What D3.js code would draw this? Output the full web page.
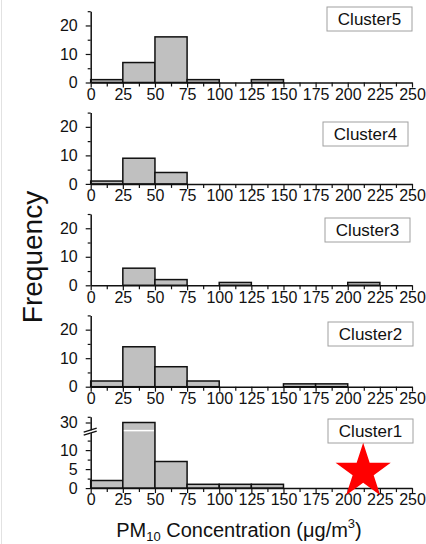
<!DOCTYPE html>
<meta charset="utf-8">
<style>
body { margin: 0; background: #fff; }
text { font-family: "Liberation Sans", Arial, sans-serif; fill: #111; }
</style>
<body>
<script src="https://cdn.jsdelivr.net/npm/d3@7/dist/d3.min.js"></script>
<script>
var width = 426, height = 544;

// bins of PM10 concentration, 25 ug/m3 wide
var binStarts = [0, 25, 50, 75, 100, 125, 150, 175, 200, 225];
var xTickValues = [0, 25, 50, 75, 100, 125, 150, 175, 200, 225, 250];

// frequency per bin, top panel first
var clusterNames = ["Cluster5", "Cluster4", "Cluster3", "Cluster2", "Cluster1"];
var cluster5 = [1, 7, 16, 1, 0, 1, 0, 0, 0, 0];
var cluster4 = [1, 9, 4, 0, 0, 0, 0, 0, 0, 0];
var cluster3 = [0, 6, 2, 0, 1, 0, 0, 0, 1, 0];
var cluster2 = [2, 14, 7, 2, 0, 0, 1, 1, 0, 0];
var cluster1 = [2, 30, 7, 1, 1, 1, 0, 0, 0, 0];
var clusterValues = [cluster5, cluster4, cluster3, cluster2, cluster1];

var yTicks = [0, 10, 20];
var yTicksBroken = [0, 5, 10];
var yTicksUpper = [30];

// layout
var panelBase0 = 82.5, panelStep = 101.4;
var boxPos = [[327, 7], [323, 122], [325, 218], [328, 322], [328, 419]];

var x = d3.scaleLinear().domain([0, 250]).range([90.7, 412]);
var fmt = d3.format("d");

var svg = d3.select("body").append("svg")
    .attr("width", width)
    .attr("height", height);

// faint page edge on the left
svg.append("line")
    .attr("x1", 1.5).attr("x2", 1.5).attr("y1", 0).attr("y2", height)
    .attr("stroke", "#e2e2e2");

clusterNames.forEach(function(name, i) {
  var base = panelBase0 + i * panelStep;
  var vals = clusterValues[i];
  var broken = (name === "Cluster1");
  var g = svg.append("g");

  var yv, yLow, yUp;
  if (!broken) {
    yLow = d3.scaleLinear().domain([0, 25]).range([base, base - 71.3]);
    yv = yLow;
  } else {
    yLow = d3.scaleLinear().domain([0, 15]).range([base, base - 57]);
    yUp = d3.scaleLinear().domain([28, 31.5]).range([base - 58, base - 71.3]);
    yv = function(v) { return v <= 15 ? yLow(v) : yUp(v); };
  }

  // bars
  var bars = binStarts.map(function(s, k) { return {x0: s, x1: s + 25, v: vals[k]}; })
      .filter(function(d) { return d.v > 0; });

  g.selectAll("rect.bar").data(bars).enter().append("rect")
      .attr("class", "bar")
      .attr("x", function(d) { return x(d.x0); })
      .attr("width", function(d) { return x(d.x1) - x(d.x0); })
      .attr("y", function(d) { return yv(d.v); })
      .attr("height", function(d) { return base - yv(d.v); })
      .attr("fill", "#c0c0c0")
      .attr("stroke", "#111")
      .attr("stroke-width", 1.5);

  if (broken) {
    // white break line across the tall bar
    var tall = bars.filter(function(d) { return d.v > 15; });
    g.selectAll("line.brk").data(tall).enter().append("line")
        .attr("x1", function(d) { return x(d.x0) + 1; })
        .attr("x2", function(d) { return x(d.x1) - 1; })
        .attr("y1", base - 57.5).attr("y2", base - 57.5)
        .attr("stroke", "#fff").attr("stroke-width", 1.5);
  }

  // x axis
  g.append("g")
      .attr("transform", "translate(0," + base + ")")
      .call(d3.axisBottom(x).tickValues(xTickValues).tickFormat(fmt).tickSize(5).tickSizeOuter(0).tickPadding(1));
  g.append("g")
      .attr("transform", "translate(0," + base + ")")
      .call(d3.axisBottom(x).tickValues(d3.range(12.5, 250, 25)).tickSize(4).tickFormat(""))
      .select(".domain").remove();

  // y axis
  if (!broken) {
    g.append("g").attr("transform", "translate(" + x(0) + ",0)")
        .call(d3.axisLeft(yLow).tickValues(yTicks).tickFormat(fmt).tickSize(5).tickSizeOuter(0).tickPadding(8));
    g.append("g").attr("transform", "translate(" + x(0) + ",0)")
        .call(d3.axisLeft(yLow).tickValues([5, 15, 25]).tickSize(3).tickFormat(""))
        .select(".domain").remove();
  } else {
    g.append("g").attr("transform", "translate(" + x(0) + ",0)")
        .call(d3.axisLeft(yLow).tickValues(yTicksBroken).tickFormat(fmt).tickSize(5).tickSizeOuter(0).tickPadding(8));
    g.append("g").attr("transform", "translate(" + x(0) + ",0)")
        .call(d3.axisLeft(yLow).tickValues([2.5, 7.5, 12.5]).tickSize(3).tickFormat(""))
        .select(".domain").remove();
    g.append("g").attr("transform", "translate(" + x(0) + ",0)")
        .call(d3.axisLeft(yUp).tickValues(yTicksUpper).tickFormat(fmt).tickSize(5).tickSizeOuter(0).tickPadding(8));
    g.append("g").attr("transform", "translate(" + x(0) + ",0)")
        .call(d3.axisLeft(yUp).tickValues([31.5]).tickSize(3).tickFormat(""))
        .select(".domain").remove();

    // break mark on the y axis
    var by = base - 57.5, bx = x(0);
    g.append("path")
        .attr("d", "M" + (bx - 7) + "," + (by + 2.5) + "L" + (bx + 6) + "," + (by - 1.5) +
                   "L" + (bx + 6) + "," + (by + 1) + "L" + (bx - 7) + "," + (by + 5) + "Z")
        .attr("fill", "#fff");
    g.append("line").attr("x1", bx - 7).attr("y1", by + 1.5).attr("x2", bx + 6).attr("y2", by - 2.5)
        .attr("stroke", "#111").attr("stroke-width", 1.5);
    g.append("line").attr("x1", bx - 7).attr("y1", by + 4.5).attr("x2", bx + 6).attr("y2", by + 0.5)
        .attr("stroke", "#111").attr("stroke-width", 1.5);
  }

  g.selectAll(".domain").attr("stroke", "#111").attr("stroke-width", 1.5);
  g.selectAll(".tick line").attr("stroke", "#111").attr("stroke-width", 1.2);
  g.selectAll(".tick text").style("font-size", "16px").attr("fill", "#111");

  // cluster label box
  var bp = boxPos[i];
  g.append("rect")
      .attr("x", bp[0]).attr("y", bp[1]).attr("width", 85).attr("height", 24)
      .attr("fill", "#fff").attr("stroke", "#a0a0a0").attr("stroke-width", 1);
  g.append("text")
      .attr("x", bp[0] + 42.5).attr("y", bp[1] + 18)
      .attr("text-anchor", "middle")
      .style("font-size", "17px")
      .text(name);

  if (broken) {
    // red star marker
    var cx = x(212), cy = yLow(4.3), R = 29, r = R * 0.382;
    var pts = d3.range(10).map(function(k) {
      var a = -Math.PI / 2 + k * Math.PI / 5, rr = k % 2 ? r : R;
      return [cx + rr * Math.cos(a), cy + rr * Math.sin(a)];
    });
    svg.append("path")
        .attr("d", "M" + pts.join("L") + "Z")
        .attr("fill", "#ff0000");
  }
});

// axis titles
svg.append("text")
    .attr("transform", "translate(42,257) rotate(-90)")
    .attr("text-anchor", "middle")
    .style("font-size", "28px")
    .text("Frequency");

var xt = svg.append("text")
    .attr("x", 239).attr("y", 537)
    .attr("text-anchor", "middle")
    .style("font-size", "20px");
xt.append("tspan").text("PM");
xt.append("tspan").attr("dy", 4).style("font-size", "13px").text("10");
xt.append("tspan").attr("dy", -4).text(" Concentration (\u03bcg/m");
xt.append("tspan").attr("dy", -9).style("font-size", "13px").text("3");
xt.append("tspan").attr("dy", 9).text(")");
</script>
</body>
